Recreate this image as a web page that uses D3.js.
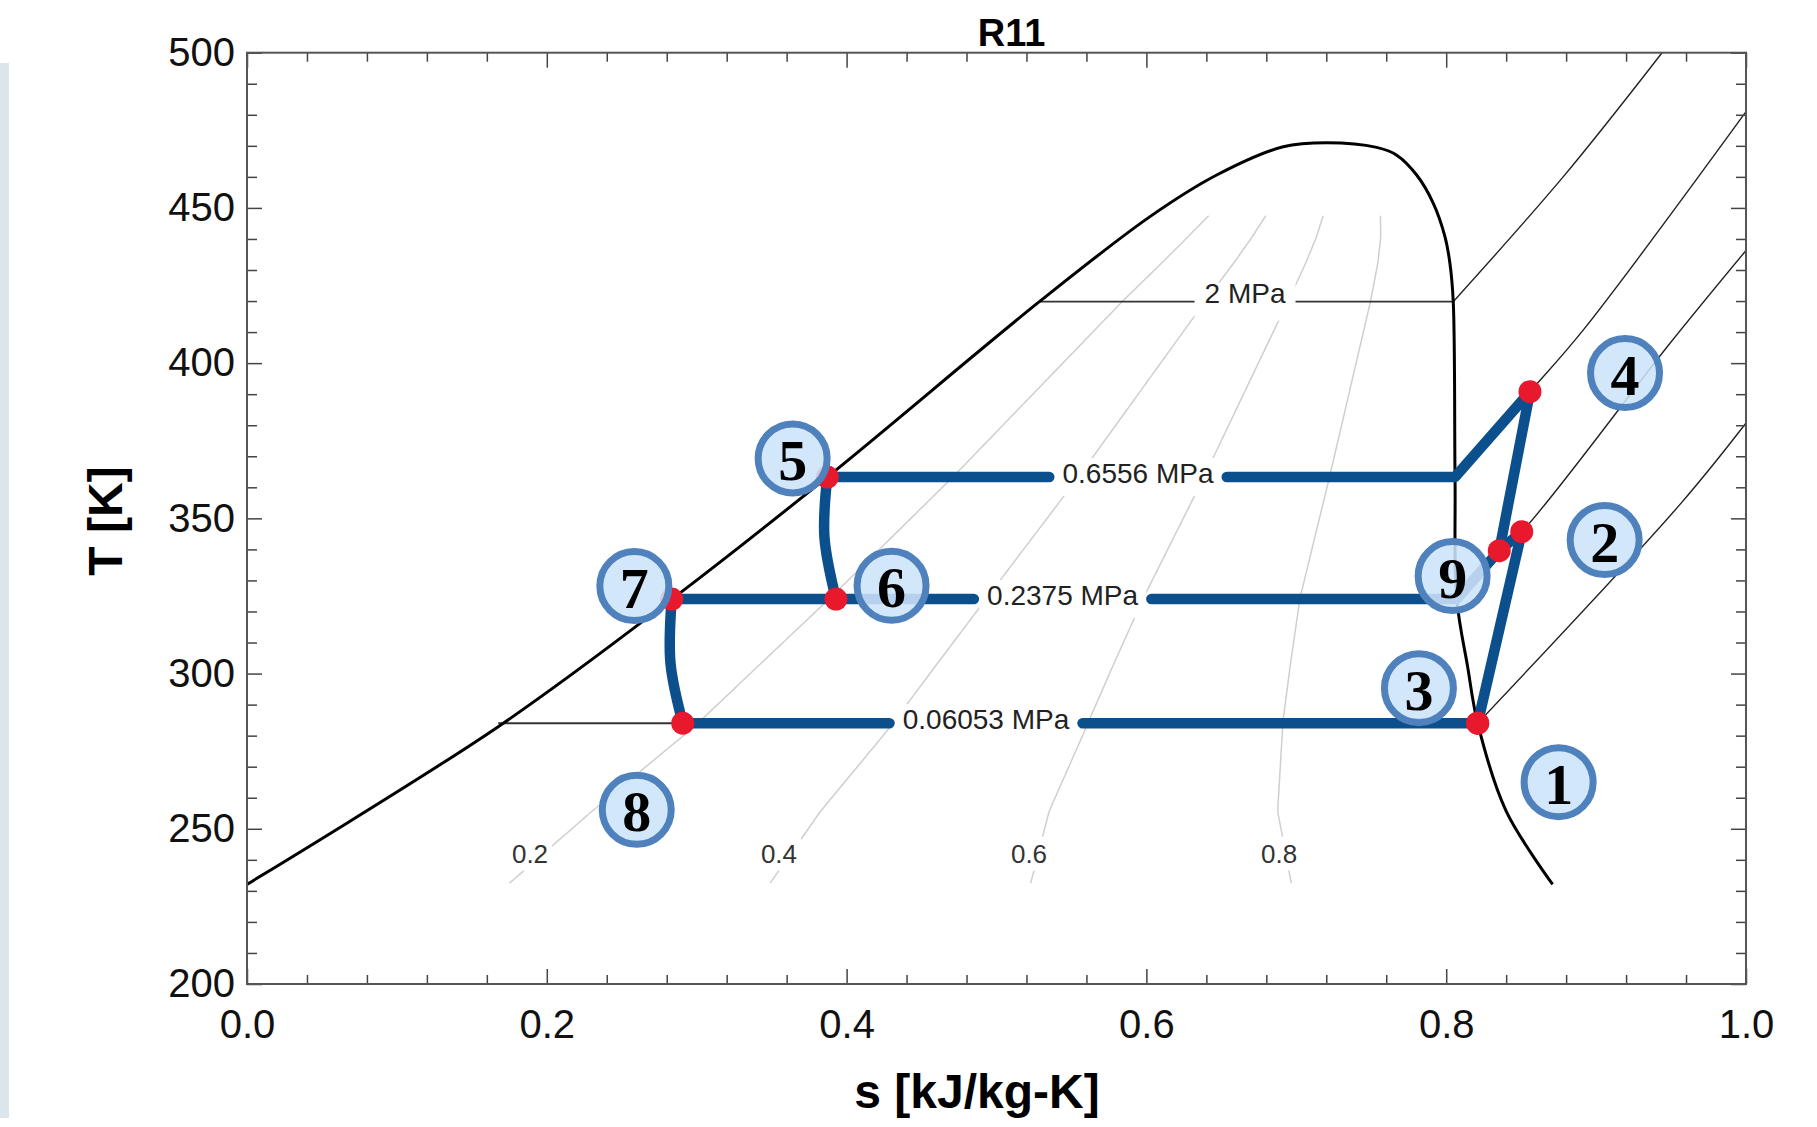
<!DOCTYPE html>
<html lang="en">
<head>
<meta charset="UTF-8">
<script src="https://cdn.jsdelivr.net/npm/d3@7"></script>
<title>R11 T-s diagram</title>
<style>
    html, body {
        margin: 0px;
        padding: 0px;
        background-color: #ffffff;
    }
    svg {
        display: block;
        font-family: "Liberation Sans", Arial, sans-serif;
    }
</style>
</head>
<body>
<svg id="chart" width="1817" height="1127"></svg>
<script>
// saturation dome (s in kJ/kg-K, T in K)
let satLiqS = [0, 0.1676, 0.2833, 0.3871, 0.5286, 0.6024, 0.6469, 0.6913, 0.7203];
let satLiqT = [232.1, 282.9, 323.9, 363.3, 419.8, 447.2, 460.6, 469.7, 471.0];
let satVapS = [0.7203, 0.7536, 0.7670, 0.7803, 0.7914, 0.7992, 0.8025, 0.8047, 0.8059, 0.8070, 0.8143, 0.8210, 0.8400, 0.8710];
let satVapT = [471.0, 469.5, 467.0, 460.6, 451.5, 440.7, 432.1, 419.8, 363.3, 324.2, 302.2, 284.0, 255.7, 232.1];

// isobars in the superheated region
let iso2S = [0.8047, 0.8780, 0.9440];
let iso2T = [419.8, 460.0, 500.0];
let iso06556S = [0.8059, 0.8559, 0.8915, 1.0];
let iso06556T = [363.3, 390.8, 410.7, 481.0];
let iso02375S = [0.8070, 0.8354, 0.8504, 0.9493, 1.0];
let iso02375T = [324.2, 339.6, 345.7, 406.4, 436.3];
let iso006053S = [0.8210, 0.9560, 1.0];
let iso006053T = [284.0, 354.5, 380.7];

// pressure levels inside the dome
let pressureNames = ['2 MPa', '0.6556 MPa', '0.2375 MPa', '0.06053 MPa'];
let pressureT = [419.8, 363.3, 324.0, 284.0];
let pressureLeftS = [0.5286, 0.3871, 0.2833, 0.1676];
let pressureRightS = [0.8047, 0.8059, 0.8070, 0.8210];
let pressureLabelS = [0.6658, 0.5944, 0.5441, 0.4930];

// quality lines
let qualities = [0.2, 0.4, 0.6, 0.8];
let qualityLabelS = [0.1888, 0.3549, 0.5217, 0.6885];
let qualityLabelT = 242;
let qualityTmin = 232.5, qualityTmax = 447.5;

// cycle states 1..9
let stateNames = ['1', '2', '3', '4', '5', '6', '7', '8', '9'];
let stateS = [0.8210, 0.8504, 0.8210, 0.8559, 0.3871, 0.3929, 0.2833, 0.2907, 0.8354];
let stateT = [284.0, 345.7, 284.0, 390.8, 363.3, 324.0, 324.0, 284.0, 339.6];
// numbered badges
let badgeS = [0.8750, 0.9057, 0.7818, 0.9193, 0.3640, 0.4300, 0.2584, 0.2600, 0.8043];
let badgeT = [265.0, 343.0, 295.3, 396.8, 369.3, 328.3, 328.2, 256.1, 331.4];
// throttling curves 5->6 and 7->8
let throttle56S = [0.3871, 0.3852, 0.3929];
let throttle56T = [363.3, 344.0, 324.0];
let throttle78S = [0.2833, 0.2825, 0.2907];
let throttle78T = [324.0, 303.4, 284.0];

let xMajor = [0, 0.2, 0.4, 0.6, 0.8, 1.0];
let yMajor = [200, 250, 300, 350, 400, 450, 500];

let margin = {top: 52.7, right: 71, bottom: 143, left: 247};
let width = 1817, height = 1127;

let zip = (a, b) => a.map((v, i) => [v, b[i]]);
let st = i => [stateS[i], stateT[i]];

let x = d3.scaleLinear().domain([0, 1]).range([margin.left, width - margin.right]);
let y = d3.scaleLinear().domain([200, 500]).range([height - margin.bottom, margin.top]);

let line = d3.line().x(d => x(d[0])).y(d => y(d[1]));
let curve = d3.line().x(d => x(d[0])).y(d => y(d[1])).curve(d3.curveCatmullRom.alpha(0.5));

let svg = d3.select('#chart');

// light strip on the far left
svg.append('rect').attr('x', 0).attr('y', 63).attr('width', 9).attr('height', 1055).attr('fill', '#dce4ec');

// quality lines
let sf = d3.scaleLinear().domain(satLiqT).range(satLiqS);
let sg = d3.scaleLinear().domain(satVapT).range(satVapS);
let tGrid = d3.range(qualityTmin, qualityTmax + 0.01, 2.5);
qualities.forEach(q => {
    let pts = tGrid.map(t => [sf(t) + q * (sg(t) - sf(t)), t]);
    svg.append('path').attr('d', curve(pts))
        .attr('fill', 'none').attr('stroke', '#cfcfcf').attr('stroke-width', 1.5);
});
qualities.forEach((q, i) => {
    let t = svg.append('text')
        .attr('x', x(qualityLabelS[i])).attr('y', y(qualityLabelT))
        .attr('text-anchor', 'middle').attr('dominant-baseline', 'central')
        .attr('font-size', 26).attr('fill', '#333')
        .text(q.toFixed(1));
    let w = t.node().getComputedTextLength();
    svg.insert('rect', 'text')
        .attr('x', x(qualityLabelS[i]) - w / 2 - 4).attr('y', y(qualityLabelT) - 17)
        .attr('width', w + 8).attr('height', 34).attr('fill', '#fff');
});

// pressure labels with white boxes, gaps used by the lines
let gaps = pressureNames.map((name, i) => {
    let cx = x(pressureLabelS[i]);
    let cy = y(pressureT[i]) - (i === 0 ? 8 : 4);
    let t = svg.append('text')
        .attr('class', 'plabel')
        .attr('x', cx).attr('y', cy)
        .attr('text-anchor', 'middle').attr('dominant-baseline', 'central')
        .attr('font-size', 28).attr('fill', '#222')
        .text(name);
    let w = t.node().getComputedTextLength();
    let pad = i === 0 ? 10 : 8;
    svg.insert('rect', '.plabel')
        .attr('x', cx - w / 2 - pad).attr('y', y(pressureT[i]) - 19)
        .attr('width', w + 2 * pad).attr('height', 38).attr('fill', '#fff');
    return [x.invert(cx - w / 2 - pad), x.invert(cx + w / 2 + pad)];
});

let lines = svg.append('g');

// 2 MPa inside the dome and the low pressure line left of state 8
lines.append('path').attr('d', line([[pressureLeftS[0], pressureT[0]], [gaps[0][0], pressureT[0]]]));
lines.append('path').attr('d', line([[gaps[0][1], pressureT[0]], [pressureRightS[0], pressureT[0]]]));
lines.append('path').attr('d', line([[pressureLeftS[3], pressureT[3]], st(7)]));
lines.selectAll('path').attr('fill', 'none').attr('stroke', '#333').attr('stroke-width', 1.8);

// superheated isobars
[[iso2S, iso2T], [iso06556S, iso06556T], [iso02375S, iso02375T], [iso006053S, iso006053T]].forEach(p => {
    lines.append('path').attr('d', curve(zip(p[0], p[1])))
        .attr('fill', 'none').attr('stroke', '#222').attr('stroke-width', 1.4);
});

// dome
lines.append('path').attr('d', curve(zip(satLiqS, satLiqT).concat(zip(satVapS, satVapT).slice(1))))
    .attr('fill', 'none').attr('stroke', '#000').attr('stroke-width', 3);

// cycle
let cap = 5.25;
let cycle = svg.append('g')
    .attr('fill', 'none').attr('stroke', '#0b4f8c').attr('stroke-width', 10.5)
    .attr('stroke-linecap', 'round').attr('stroke-linejoin', 'round');
let gl = i => x.invert(x(gaps[i][0]) - cap);
let gr = i => x.invert(x(gaps[i][1]) + cap);
cycle.append('path').attr('d', line([st(3), [pressureRightS[1], pressureT[1]], [gr(1), pressureT[1]]]));
cycle.append('path').attr('d', line([[gl(1), pressureT[1]], st(4)]));
cycle.append('path').attr('d', line([st(1), st(8), [pressureRightS[2], pressureT[2]], [gr(2), pressureT[2]]]));
cycle.append('path').attr('d', line([[gl(2), pressureT[2]], st(6)]));
cycle.append('path').attr('d', line([st(0), [gr(3), pressureT[3]]]));
cycle.append('path').attr('d', line([[gl(3), pressureT[3]], st(7)]));
cycle.append('path').attr('d', line([st(0), st(1)]));
cycle.append('path').attr('d', line([st(8), st(3)]));
cycle.append('path').attr('d', curve(zip(throttle56S, throttle56T)));
cycle.append('path').attr('d', curve(zip(throttle78S, throttle78T)));

// state dots
svg.append('g').selectAll('circle')
    .data(stateS.map((s, i) => [s, stateT[i]]))
    .join('circle')
    .attr('cx', d => x(d[0])).attr('cy', d => y(d[1]))
    .attr('r', 11.5).attr('fill', '#e8192c');

// bring pressure labels above the lines
svg.selectAll('.plabel').raise();

// axes
function tidy(g, size) {
    g.select('.domain').remove();
    g.selectAll('.tick line').attr('stroke', '#444').attr('stroke-width', 1.5);
    g.attr('font-size', size).attr('font-family', '"Liberation Sans", Arial, sans-serif');
    g.selectAll('.tick text').attr('fill', '#111');
}
let xMinor = d3.range(0, 1.0001, 0.04).filter(v => Math.abs(v / 0.2 - Math.round(v / 0.2)) > 1e-6);
let yMinor = d3.range(200, 501, 10).filter(v => v % 50 !== 0);
let plotBottom = y(200), plotTop = y(500), plotLeft = x(0), plotRight = x(1);

svg.append('g').attr('transform', `translate(0,${plotBottom})`)
    .call(d3.axisBottom(x).tickValues(xMinor).tickSize(-9).tickSizeOuter(0).tickFormat('')).call(g => tidy(g, 40));
svg.append('g').attr('transform', `translate(0,${plotBottom})`)
    .call(d3.axisBottom(x).tickValues(xMajor).tickSize(-15).tickSizeOuter(0).tickPadding(26).tickFormat(d3.format('.1f')))
    .call(g => tidy(g, 40));
svg.append('g').attr('transform', `translate(0,${plotTop})`)
    .call(d3.axisTop(x).tickValues(xMinor).tickSize(-9).tickSizeOuter(0).tickFormat('')).call(g => tidy(g, 40));
svg.append('g').attr('transform', `translate(0,${plotTop})`)
    .call(d3.axisTop(x).tickValues(xMajor).tickSize(-15).tickSizeOuter(0).tickFormat('')).call(g => tidy(g, 40));
svg.append('g').attr('transform', `translate(${plotLeft},0)`)
    .call(d3.axisLeft(y).tickValues(yMinor).tickSize(-10).tickSizeOuter(0).tickFormat('')).call(g => tidy(g, 40));
svg.append('g').attr('transform', `translate(${plotLeft},0)`)
    .call(d3.axisLeft(y).tickValues(yMajor).tickSize(-15).tickSizeOuter(0).tickPadding(12).tickFormat(d3.format('d')))
    .call(g => tidy(g, 40));
svg.append('g').attr('transform', `translate(${plotRight},0)`)
    .call(d3.axisRight(y).tickValues(yMinor).tickSize(-10).tickSizeOuter(0).tickFormat('')).call(g => tidy(g, 40));
svg.append('g').attr('transform', `translate(${plotRight},0)`)
    .call(d3.axisRight(y).tickValues(yMajor).tickSize(-15).tickSizeOuter(0).tickFormat('')).call(g => tidy(g, 40));

svg.append('rect')
    .attr('x', plotLeft).attr('y', plotTop).attr('width', plotRight - plotLeft).attr('height', plotBottom - plotTop)
    .attr('fill', 'none').attr('stroke', '#555').attr('stroke-width', 2);

// titles
svg.append('text').attr('x', 1011.6).attr('y', 46).attr('text-anchor', 'middle')
    .attr('font-size', 38).attr('font-weight', 'bold').text('R11');
svg.append('text').attr('x', 977).attr('y', 1108).attr('text-anchor', 'middle')
    .attr('font-size', 48).attr('font-weight', 'bold').text('s [kJ/kg-K]');
svg.append('text').attr('transform', 'translate(122,521) rotate(-90)').attr('text-anchor', 'middle')
    .attr('font-size', 48).attr('font-weight', 'bold').text('T [K]');

// numbered badges
let badges = svg.append('g').selectAll('g')
    .data(stateNames.map((n, i) => ({n: n, s: badgeS[i], t: badgeT[i]})))
    .join('g')
    .attr('transform', d => `translate(${x(d.s)},${y(d.t)})`);
badges.append('circle').attr('r', 34.5)
    .attr('fill', '#cde4fb').attr('fill-opacity', 0.88)
    .attr('stroke', '#4f81bd').attr('stroke-width', 7);
badges.append('text')
    .attr('text-anchor', 'middle').attr('dominant-baseline', 'central').attr('y', 2)
    .attr('font-family', '"Liberation Serif", "DejaVu Serif", serif')
    .attr('font-weight', 'bold').attr('font-size', 58).attr('fill', '#000')
    .text(d => d.n);
</script>
</body>
</html>
